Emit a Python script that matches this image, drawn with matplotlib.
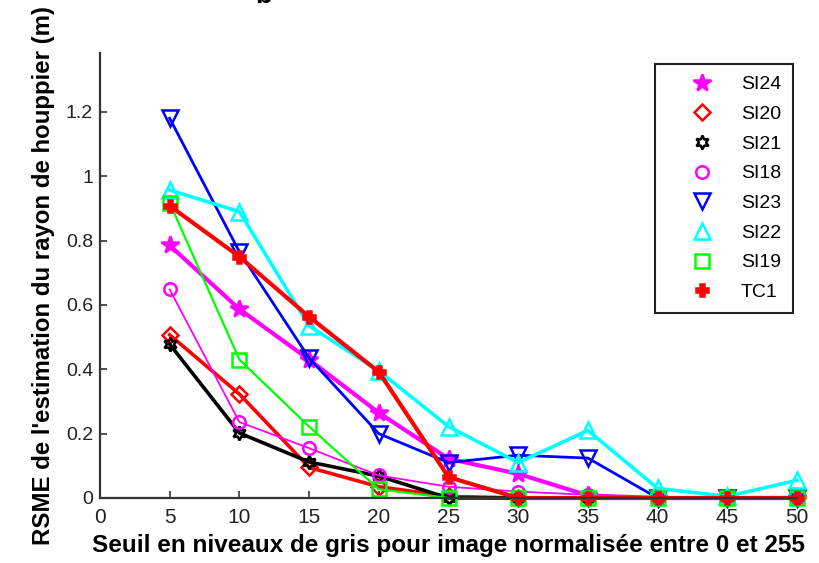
import matplotlib
matplotlib.use("Agg")
import matplotlib.pyplot as plt
from matplotlib.lines import Line2D

thresholds = [5, 10, 15, 20, 25, 30, 35, 40, 45, 50]
si24 = [0.785, 0.587, 0.43, 0.265, 0.122, 0.075, 0.008, 0.0, 0.0, 0.0]
si20 = [0.507, 0.323, 0.095, 0.035, 0.005, 0.0, 0.0, 0.0, 0.0, 0.0]
si21 = [0.478, 0.202, 0.112, 0.068, 0.0, 0.0, 0.0, 0.0, 0.0, 0.0]
si18 = [0.648, 0.236, 0.155, 0.07, 0.035, 0.02, 0.01, 0.0, 0.0, 0.0]
si23 = [1.18, 0.765, 0.435, 0.2, 0.11, 0.133, 0.124, 0.0, 0.0, 0.0]
si22 = [0.957, 0.89, 0.535, 0.395, 0.222, 0.11, 0.21, 0.03, 0.005, 0.055]
si19 = [0.917, 0.43, 0.222, 0.027, 0.0, 0.0, 0.0, 0.0, 0.0, 0.0]
tc1 = [0.908, 0.75, 0.563, 0.392, 0.065, 0.0, 0.0, 0.0, 0.0, 0.0]

labels = ["SI24", "SI20", "SI21", "SI18", "SI23", "SI22", "SI19", "TC1"]
xticks = [0, 5, 10, 15, 20, 25, 30, 35, 40, 45, 50]
yticks = [0, 0.2, 0.4, 0.6, 0.8, 1.0, 1.2]
yticklabels = ["0", "0.2", "0.4", "0.6", "0.8", "1", "1.2"]
xlabel = "Seuil en niveaux de gris pour image normalisée entre 0 et 255"
ylabel = "RSME de l'estimation du rayon de houppier (m)"

series = [si24, si20, si21, si18, si23, si22, si19, tc1]
styles = [
    dict(color="#ff00ff", marker="*", ms=13, lw=3.0, mfc="#ff00ff"),
    dict(color="#ff0000", marker="D", ms=8, lw=2.6, mfc="none"),
    dict(color="#000000", marker=(6, 1, 0), ms=10, lw=2.6, mfc="none"),
    dict(color="#ff00ff", marker="o", ms=9, lw=1.3, mfc="none"),
    dict(color="#0000ff", marker="v", ms=11, lw=2.0, mfc="none"),
    dict(color="#00ffff", marker="^", ms=11, lw=2.6, mfc="none"),
    dict(color="#00ff00", marker="s", ms=10, lw=1.6, mfc="none"),
    dict(color="#ff0000", marker="P", ms=9, lw=3.0, mfc="#ff0000"),
]

fig = plt.figure(figsize=(8.19, 5.63), dpi=100)
ax = fig.add_axes([100 / 819, 1 - 498 / 563, 697 / 819, 445 / 563])

handles = []
for y, lab, st in zip(series, labels, styles):
    ax.plot(thresholds, y, color=st["color"], lw=st["lw"], marker=st["marker"],
            ms=st["ms"], mfc=st["mfc"], mec=st["color"], mew=1.8, clip_on=False)
    handles.append(Line2D([], [], linestyle="none", color=st["color"], marker=st["marker"],
                          ms=st["ms"], mfc=st["mfc"], mec=st["color"], mew=1.8, label=lab))

ax.set_xlim(0, 50)
ax.set_ylim(0, 1.383)
ax.set_xticks(xticks)
ax.set_yticks(yticks)
ax.set_yticklabels(yticklabels)
for s in ["top", "right"]:
    ax.spines[s].set_visible(False)
for s in ["left", "bottom"]:
    ax.spines[s].set_linewidth(1.6)
    ax.spines[s].set_color("#333333")
ax.tick_params(direction="in", length=5, width=1.2, color="#333333")
for t in ax.get_xticklabels():
    t.set_fontfamily(["Liberation Sans Narrow", "Liberation Sans"])
    t.set_fontsize(15)
    t.set_color("#222222")
for t in ax.get_yticklabels():
    t.set_fontfamily(["Liberation Sans", "DejaVu Sans"])
    t.set_fontsize(14)
    t.set_color("#222222")
ax.tick_params(axis="x", pad=7)
ax.tick_params(axis="y", pad=5)

ax.set_xlabel(xlabel, fontsize=17.5, fontweight="bold",
              family=["Liberation Sans", "DejaVu Sans"], labelpad=5)
ax.set_ylabel(ylabel, fontsize=17.3, fontweight="bold",
              family=["Liberation Sans", "DejaVu Sans"], labelpad=8)

leg = ax.legend(handles=handles, loc="upper right", bbox_to_anchor=(0.994, 0.975),
                fancybox=False, framealpha=1, edgecolor="#222222",
                prop={"family": ["Liberation Sans", "DejaVu Sans"], "size": 14},
                handlelength=3.6, handletextpad=0.2, labelspacing=0.62,
                borderpad=0.6, borderaxespad=0)
leg.get_frame().set_linewidth(1.5)

fig.text(0.322, 0.994, "b", fontsize=20, fontweight="bold", ha="center", va="baseline",
         family=["Liberation Sans", "DejaVu Sans"])

fig.savefig("out.png", dpi=100)
